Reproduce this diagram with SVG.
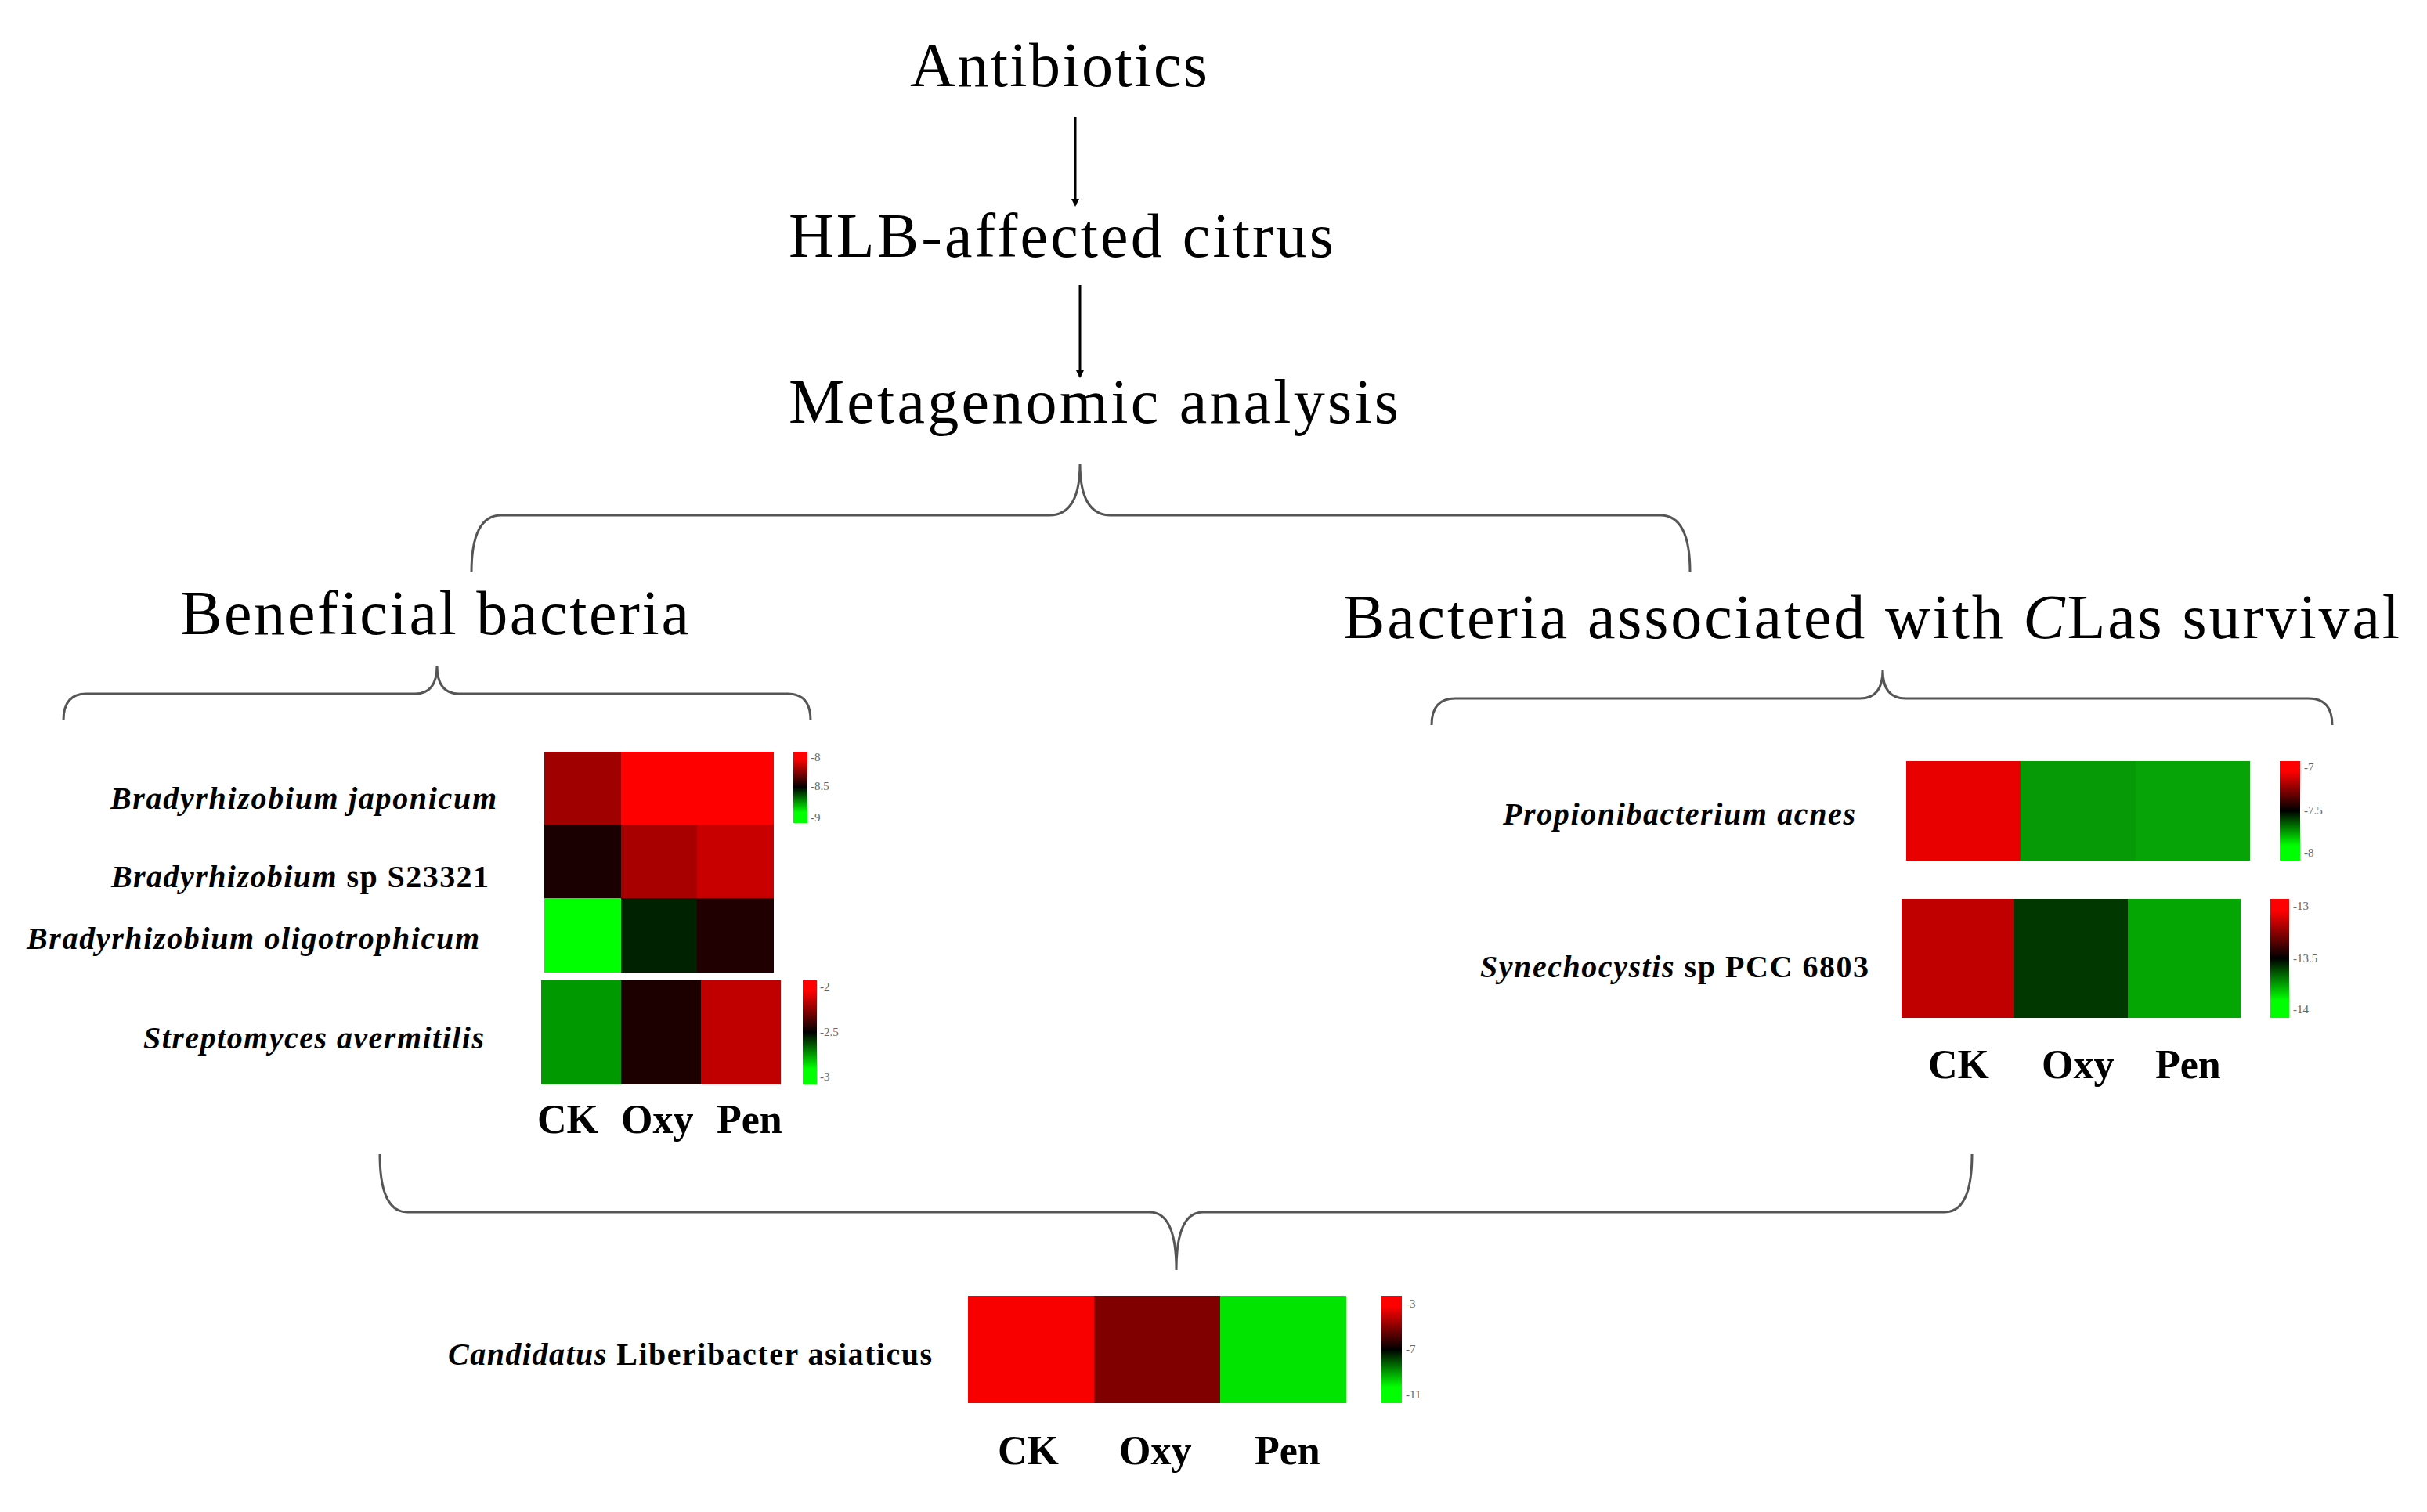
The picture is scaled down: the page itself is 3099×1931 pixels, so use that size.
<svg xmlns="http://www.w3.org/2000/svg" width="3099" height="1931" viewBox="0 0 3099 1931">
<style>
.t{font-family:"Liberation Serif",serif;fill:#000}
.big{font-size:80px}
.lab{font-size:40px;font-weight:bold;font-style:italic}
.ax{font-size:52px;font-weight:bold}
.tk{font-size:15px;fill:#666;font-family:"Liberation Serif",serif}
.br{fill:none;stroke:#555;stroke-width:3}
.ar{stroke:#000;stroke-width:3;marker-end:url(#ah)}
</style>
<defs>
<marker id="ah" markerWidth="10" markerHeight="10" refX="8" refY="5" orient="auto" markerUnits="userSpaceOnUse"><path d="M0,0 L10,5 L0,10 z" fill="#000"/></marker>
<linearGradient id="cb" x1="0" y1="0" x2="0" y2="1"><stop offset="0.1" stop-color="#ff0000"/><stop offset="0.5" stop-color="#000"/><stop offset="0.85" stop-color="#00ff00"/></linearGradient>
</defs>
<rect width="3099" height="1931" fill="#fff"/>
<g id="connectors">
<line class="ar" x1="1373" y1="149" x2="1373" y2="262"/>
<line class="ar" x1="1379" y1="364" x2="1379" y2="481"/>
<path class="br" d="M602,731 Q602,658 640,658 L1340,658 Q1379,658 1379,592 Q1379,658 1418,658 L2120,658 Q2158,658 2158,731"/>
<path class="br" d="M81,920 Q81,886 110,886 L530,886 Q558,886 558,850 Q558,886 586,886 L1006,886 Q1035,886 1035,920"/>
<path class="br" d="M1828,926 Q1828,892 1858,892 L2375,892 Q2404,892 2404,856 Q2404,892 2433,892 L2948,892 Q2978,892 2978,926"/>
<path class="br" d="M485,1474 Q485,1548 520,1548 L1468,1548 Q1502,1548 1502,1622 Q1502,1548 1536,1548 L2483,1548 Q2518,1548 2518,1474"/>
</g>
<g id="antibiotics"><text class="t big" x="1162" y="110" textLength="380">Antibiotics</text></g>
<g id="hlb"><text class="t big" x="1007" y="328" textLength="696">HLB-affected citrus</text></g>
<g id="meta"><text class="t big" x="1007" y="540" textLength="779">Metagenomic analysis</text></g>
<g id="beneficial"><text class="t big" x="230" y="810" textLength="650">Beneficial bacteria</text></g>
<g id="survival"><text class="t big" x="1715" y="815" textLength="1349">Bacteria associated with <tspan font-style="italic">C</tspan>Las survival</text></g>
<g id="left-heatmap">
<text class="t lab" x="634" y="1033" text-anchor="end" textLength="493">Bradyrhizobium japonicum</text>
<text class="t lab" x="624" y="1133" text-anchor="end" textLength="482">Bradyrhizobium <tspan font-style="normal">sp S23321</tspan></text>
<text class="t lab" x="612" y="1212" text-anchor="end" textLength="578">Bradyrhizobium oligotrophicum</text>
<text class="t lab" x="618" y="1339" text-anchor="end" textLength="435">Streptomyces avermitilis</text>
<rect x="695" y="960" width="98" height="93" fill="#a00000"/><rect x="793" y="960" width="195" height="93" fill="#ff0000"/>
<rect x="695" y="1053" width="98" height="94" fill="#1a0000"/><rect x="793" y="1053" width="97" height="94" fill="#a80000"/><rect x="890" y="1053" width="98" height="94" fill="#c80000"/>
<rect x="695" y="1147" width="98" height="95" fill="#00ff00"/><rect x="793" y="1147" width="97" height="95" fill="#002200"/><rect x="890" y="1147" width="98" height="95" fill="#200000"/>
<rect x="1013" y="960" width="18" height="91" fill="url(#cb)"/>
<text class="tk" x="1035" y="972">-8</text><text class="tk" x="1035" y="1009">-8.5</text><text class="tk" x="1035" y="1049">-9</text>
<rect x="691" y="1252" width="102" height="133" fill="#009a00"/><rect x="793" y="1252" width="102" height="133" fill="#1c0000"/><rect x="895" y="1252" width="102" height="133" fill="#c00000"/>
<rect x="1025" y="1252" width="18" height="133" fill="url(#cb)"/>
<text class="tk" x="1047" y="1265">-2</text><text class="tk" x="1047" y="1323">-2.5</text><text class="tk" x="1047" y="1380">-3</text>
<text class="t ax" x="686" y="1447">CK</text><text class="t ax" x="793" y="1447">Oxy</text><text class="t ax" x="915" y="1447">Pen</text>
</g>
<g id="right-heatmap">
<text class="t lab" x="2369" y="1053" text-anchor="end" textLength="450">Propionibacterium acnes</text>
<text class="t lab" x="2386" y="1248" text-anchor="end" textLength="496">Synechocystis <tspan font-style="normal">sp PCC 6803</tspan></text>
<rect x="2434" y="972" width="146" height="127" fill="#e80000"/><rect x="2580" y="972" width="147" height="127" fill="#079a07"/><rect x="2727" y="972" width="146" height="127" fill="#06a406"/>
<rect x="2911" y="972" width="26" height="127" fill="url(#cb)"/>
<text class="tk" x="2942" y="985">-7</text><text class="tk" x="2942" y="1040">-7.5</text><text class="tk" x="2942" y="1094">-8</text>
<rect x="2428" y="1148" width="144" height="152" fill="#c00000"/><rect x="2572" y="1148" width="145" height="152" fill="#003800"/><rect x="2717" y="1148" width="144" height="152" fill="#04a604"/>
<rect x="2899" y="1148" width="24" height="152" fill="url(#cb)"/>
<text class="tk" x="2928" y="1162">-13</text><text class="tk" x="2928" y="1229">-13.5</text><text class="tk" x="2928" y="1294">-14</text>
<text class="t ax" x="2462" y="1377">CK</text><text class="t ax" x="2607" y="1377">Oxy</text><text class="t ax" x="2752" y="1377">Pen</text>
</g>
<g id="clas-heatmap">
<text class="t lab" x="572" y="1743" textLength="618"><tspan>Candidatus</tspan><tspan font-style="normal"> Liberibacter asiaticus</tspan></text>
<rect x="1236" y="1655" width="161" height="137" fill="#f80000"/><rect x="1397" y="1655" width="161" height="137" fill="#800000"/><rect x="1558" y="1655" width="161" height="137" fill="#00e400"/>
<rect x="1764" y="1655" width="26" height="137" fill="url(#cb)"/>
<text class="tk" x="1795" y="1670">-3</text><text class="tk" x="1795" y="1728">-7</text><text class="tk" x="1795" y="1786">-11</text>
<text class="t ax" x="1274" y="1870">CK</text><text class="t ax" x="1429" y="1870">Oxy</text><text class="t ax" x="1602" y="1870">Pen</text>
</g>
</svg>
